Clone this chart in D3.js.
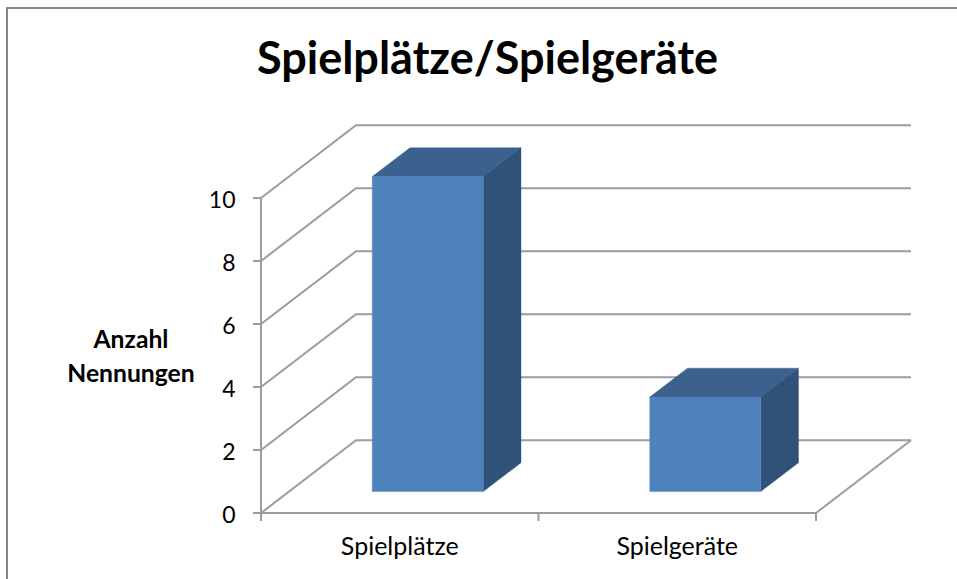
<!DOCTYPE html>
<html><head><meta charset="utf-8">
<script src="https://cdn.jsdelivr.net/npm/d3@7/dist/d3.min.js"></script>
<style>html,body{margin:0;padding:0;background:#fff}svg{display:block}text{font-family:Lato,"Open Sans",sans-serif;fill:#000}</style>
</head><body><svg id="c" width="957" height="579"></svg>
<script>
const categories = ["Spielplätze", "Spielgeräte"];
const values = [10, 3];
const yTicks = [0, 2, 4, 6, 8, 10];
const titleText = "Spielplätze/Spielgeräte";
const yTitleLines = ["Anzahl", "Nennungen"];

const svg = d3.select("#c");
const x0 = 261, x1 = 816, yBase = 513, yTop = 198;
const DX = 95, DY = -72.7;
const x = d3.scaleBand().domain(categories).range([x0, x1]).paddingInner(0.6).paddingOuter(0.3);
const catEdge = d3.scaleLinear().domain([0, categories.length]).range([x0, x1]);
const y = d3.scaleLinear().domain([0, 10]).range([yBase, yTop]);
const depth = { x: d3.scaleLinear().domain([0, 1]).range([0, DX]), y: d3.scaleLinear().domain([0, 1]).range([0, DY]) };
const P = (px, py, d) => [px + depth.x(d), py + depth.y(d)];
const line = d3.line();
const gridC = "#9c9c9c", axisC = "#9c9c9c";

svg.append("rect").attr("x", 7).attr("y", 8).attr("width", 1000).attr("height", 1000)
  .attr("fill", "#fff").attr("stroke", "#868686").attr("stroke-width", 2);

// walls
const grid = svg.append("g").attr("fill", "none").attr("stroke", gridC).attr("stroke-width", 2);
yTicks.forEach(t => {
  grid.append("path").attr("d", line([P(x0, y(t), 0), P(x0, y(t), 1), P(x1, y(t), 1)]));
});
grid.append("path").attr("d", line([P(x1, y(0), 0), P(x1, y(0), 1)]));

// axes
const ax = svg.append("g").attr("fill", "none").attr("stroke", axisC).attr("stroke-width", 2);
ax.append("path").attr("d", line([[x0, y(10)], [x0, y(0) + 8]]));
ax.append("path").attr("d", line([[x0, y(0)], [x1, y(0)]]));
yTicks.forEach(t => ax.append("path").attr("d", line([[x0 - 8, y(t)], [x0, y(t)]])));
d3.range(categories.length + 1).forEach(i => ax.append("path").attr("d", line([[catEdge(i), y(0)], [catEdge(i), y(0) + 8]])));

// bars
const dA = 0.295, dB = 0.692;
const bars = svg.append("g").selectAll("g").data(categories).join("g");
bars.each(function (c, i) {
  const g = d3.select(this);
  const l = x(c), r = l + x.bandwidth(), t = y(values[i]), b = y(0);
  const poly = (pts, fill) => g.append("path").attr("d", line(pts) + "Z").attr("fill", fill).attr("stroke", fill).attr("stroke-width", 0.4);
  poly([P(l, t, dA), P(r, t, dA), P(r, t, dB), P(l, t, dB)], "#3c618f");
  poly([P(r, t, dA), P(r, t, dB), P(r, b, dB), P(r, b, dA)], "#315278");
  poly([P(l, t, dA), P(r, t, dA), P(r, b, dA), P(l, b, dA)], "#4f81bd");
});

// labels
svg.append("text").attr("x", 487.5).attr("y", 74).attr("text-anchor", "middle")
  .attr("font-size", 45).attr("font-weight", 700).text(titleText);
svg.append("g").selectAll("text").data(yTicks).join("text")
  .attr("x", 235.5).attr("y", d => y(d) + 9.5).attr("text-anchor", "end").attr("font-size", 23).text(d => d);
svg.append("g").selectAll("text").data(categories).join("text")
  .attr("x", (d, i) => (catEdge(i) + catEdge(i + 1)) / 2).attr("y", 555).attr("text-anchor", "middle")
  .attr("font-size", 25).text(d => d);
svg.append("g").selectAll("text").data(yTitleLines).join("text")
  .attr("x", 131).attr("y", (d, i) => 348 + i * 33.5).attr("text-anchor", "middle")
  .attr("font-size", 24.7).attr("font-weight", 700).text(d => d);
</script></body></html>
